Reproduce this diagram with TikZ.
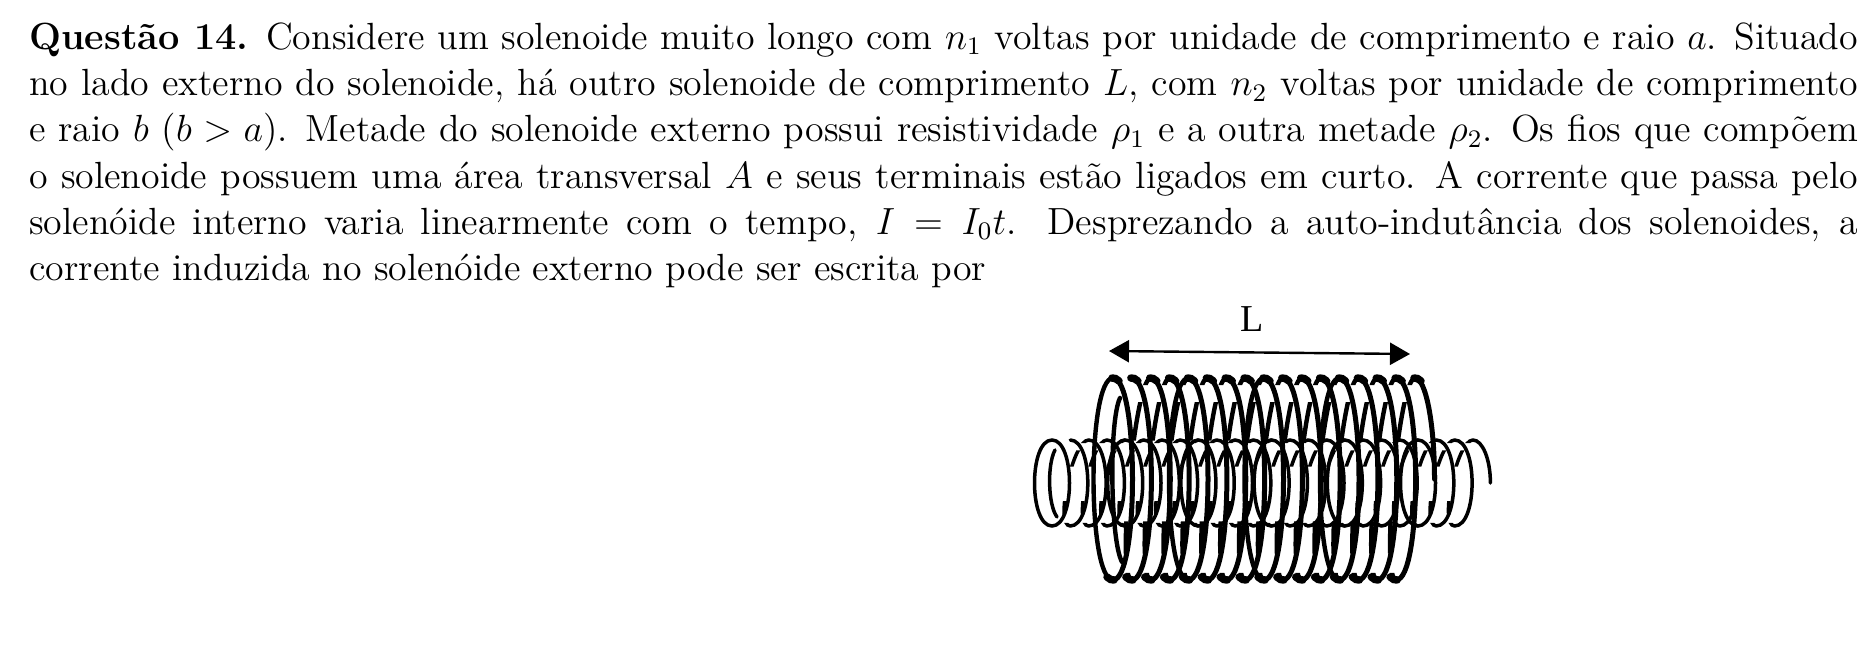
\documentclass[tikz,border=0pt]{standalone}
\usepackage{fontspec}
\usetikzlibrary{arrows.meta}
\newfontfamily\labelfont{Liberation Serif}
\tikzset{
  inwire/.style={line width=3.5pt,line cap=round},
  outwire/.style={line width=5pt,line cap=round},
  outback/.style={line width=4.4pt,line cap=round},
  outcap/.style={line width=7.5pt,line cap=round},
  dim/.style={line width=2.4pt,{Triangle[length=20pt,width=22pt]}-{Triangle[length=20pt,width=22pt]}},
  para/.style={inner sep=0pt,anchor=north west,scale=3.155,text width=579.7pt,align=justify,font=\fontsize{12}{14.66}\selectfont}
}
% #1 wire style, #2 first top x, #3 pitch, #4 centre y, #5 radius, #6 half-width, #7 last full turn
\newcommand{\coilfront}[7]{%
  \foreach \k in {0,...,#7}{%
    \pgfmathsetmacro{\xa}{#2+\k*#3}
    \pgfmathsetmacro{\c}{1.333*#6}
    \draw[#1] (\xa,#4-#5) .. controls (\xa+\c,#4-#5) and (\xa+\c,#4+#5) .. (\xa,#4+#5);
  }%
  \pgfmathsetmacro{\xa}{#2+(#7+1)*#3}
  \draw[#1] (\xa,#4-#5) .. controls (\xa+.55*#6,#4-#5) and (\xa+#6,#4-.55*#5) .. (\xa+#6,#4);
}
\newcommand{\coilback}[7]{%
  \pgfmathsetmacro{\c}{1.333*#6}
  \def\bk{16}
  \begin{scope}
    \clip (0,#4-1.2*#5) rectangle (1871,#4-.93*#5)
          (0,#4-.76*#5) rectangle (1871,#4-.38*#5)
          (0,#4+.42*#5) rectangle (1871,#4+.74*#5)
          (0,#4+.93*#5) rectangle (1871,#4+1.2*#5);
    \foreach \k in {1,...,#7}{%
      \pgfmathsetmacro{\xa}{#2+\k*#3}
      \draw[#1] (\xa,#4+#5) .. controls (\xa-\bk,#4+#5) and (\xa+#3-\bk,#4-#5) .. (\xa+#3,#4-#5);
    }
  \end{scope}
  % every fourth turn reads as a closed ring
  \pgfmathsetmacro{\lastk}{int(#7/4)}
  \foreach \k in {0,...,\lastk}{%
    \pgfmathsetmacro{\xa}{#2+4*\k*#3}
    \draw[#1] (\xa,#4+#5) .. controls (\xa-\c,#4+#5) and (\xa-\c,#4-#5) .. (\xa,#4-#5);
  }
}
% thick crests of the outer coil: #1 radius, #2 first x, #3 pitch, #4 centre y, #5 last crest
\newcommand{\coilcaps}[5]{%
  \foreach \k in {0,...,#5}{%
    \pgfmathsetmacro{\xa}{#2+\k*#3}
    \draw[outcap] (\xa-1,#4-#1) .. controls (\xa+1,#4-#1) and (\xa+4,#4-#1+.5) .. (\xa+6,#4-#1+3);
    \ifnum\k<#5
      \draw[outcap] (\xa+1,#4+#1) .. controls (\xa-1,#4+#1) and (\xa-4,#4+#1-.5) .. (\xa-6,#4+#1-3);
    \fi
  }%
}
\begin{document}
\begin{tikzpicture}[x=1pt,y=-1pt]
\useasboundingbox[fill=white] (0,0) rectangle (1871,653);
\node[para] (question) at (28.5,22) {\textbf{Questão 14.} Considere um solenoide muito longo com $n_1$ voltas por unidade de comprimento e raio $a$. Situado\linebreak
no lado externo do solenoide, há outro solenoide de comprimento $L$, com $n_2$ voltas por unidade de comprimento\linebreak
e raio $b$ ($b>a$). Metade do solenoide externo possui resistividade $\rho_1$ e a outra metade $\rho_2$. Os fios que compõem\linebreak
o solenoide possuem uma área transversal $A$ e seus terminais estão ligados em curto. A corrente que passa pelo\linebreak
solenóide interno varia linearmente com o tempo, $I=I_0t$. Desprezando a auto-indutância dos solenoides, a\linebreak
corrente induzida no solenóide externo pode ser escrita por};
\node[font=\labelfont\fontsize{38}{38}\selectfont,inner sep=0pt,anchor=base] (lab) at (1252,331) {L};
\coordinate (dimL) at (1109,351);
\coordinate (dimR) at (1410,354);
\draw[dim] (dimL) -- (dimR);
\coilback{outback}{1113}{18.875}{479}{101}{19.5}{15}
\draw[outback] (1122,562) .. controls (1110,540) and (1109,420) .. (1120,398);
\coilback{inwire}{1052}{18.3}{483}{43}{17.5}{22}
\draw[inwire] (1057,517) .. controls (1048,505) and (1047,465) .. (1055,450);
\coilfront{inwire}{1052}{18.3}{483}{43}{17.5}{22}
\coilfront{outwire}{1113}{18.875}{479}{101}{19.5}{15}
\coilcaps{101}{1113}{18.875}{479}{16}
\end{tikzpicture}
\end{document}
